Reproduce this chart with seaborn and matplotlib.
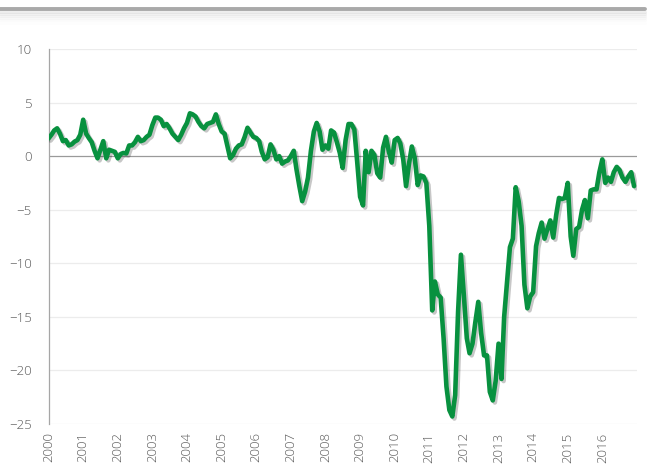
import matplotlib
matplotlib.use("Agg")
import matplotlib.pyplot as plt
import matplotlib.patheffects as pe
import pandas as pd
import seaborn as sns

# monthly values, one list per year
y2000 = [1.65, 2.0, 2.4, 2.6, 2.1, 1.4, 1.5, 1.0, 1.1, 1.35, 1.5, 2.0]
y2001 = [3.4, 2.1, 1.7, 1.3, 0.5, -0.2, 0.6, 1.4, -0.2, 0.6, 0.5, 0.4]
y2002 = [-0.2, 0.2, 0.3, 0.25, 1.0, 1.0, 1.3, 1.8, 1.4, 1.5, 1.8, 2.0]
y2003 = [2.9, 3.6, 3.6, 3.4, 2.8, 3.0, 2.6, 2.1, 1.8, 1.5, 2.0, 2.6]
y2004 = [3.1, 4.0, 3.9, 3.7, 3.2, 2.8, 2.6, 3.0, 3.1, 3.2, 3.9, 3.0]
y2005 = [2.3, 2.1, 1.0, -0.2, 0.1, 0.7, 1.0, 1.1, 1.8, 2.65, 2.2, 1.8]
y2006 = [1.7, 1.4, 0.4, -0.3, -0.1, 1.1, 0.6, -0.3, 0.0, -0.7, -0.5, -0.4]
y2007 = [0.0, 0.5, -1.2, -2.8, -4.2, -3.3, -2.0, 0.5, 2.3, 3.1, 2.3, 0.6]
y2008 = [1.0, 0.7, 2.4, 2.2, 1.3, 0.3, -1.1, 1.5, 3.0, 3.0, 2.5, -0.5]
y2009 = [-3.8, -4.6, 0.5, -1.5, 0.5, 0.1, -1.6, -2.0, 0.8, 1.8, 0.4, -0.6]
y2010 = [1.5, 1.7, 1.2, -0.3, -2.8, -0.7, 0.9, -0.2, -2.7, -1.8, -1.9, -2.5]
y2011 = [-6.5, -14.4, -11.7, -12.9, -13.2, -17.0, -21.5, -23.7, -24.3, -22.3, -14.5, -9.2]
y2012 = [-13.0, -17.0, -18.4, -17.5, -15.5, -13.6, -16.5, -18.6, -18.6, -22.0, -22.8, -21.0]
y2013 = [-17.5, -20.8, -15.0, -11.7, -8.5, -7.7, -2.9, -4.2, -6.5, -12.0, -14.2, -13.1]
y2014 = [-12.7, -8.4, -7.2, -6.2, -7.7, -6.8, -6.0, -7.6, -5.5, -3.9, -4.0, -3.9]
y2015 = [-2.5, -7.5, -9.3, -6.8, -6.6, -5.0, -4.1, -5.8, -3.2, -3.1, -3.1, -1.5]
y2016 = [-0.3, -2.5, -2.0, -2.4, -1.5, -1.0, -1.3, -2.0, -2.4, -1.9, -1.5, -2.8]

values = (y2000 + y2001 + y2002 + y2003 + y2004 + y2005 + y2006 + y2007 + y2008
          + y2009 + y2010 + y2011 + y2012 + y2013 + y2014 + y2015 + y2016)
years = list(range(2000, 2017))
y_ticks = [-25, -20, -15, -10, -5, 0, 5, 10]

df = pd.DataFrame({
    "date": pd.date_range("2000-01-01", periods=len(values), freq="MS"),
    "value": values,
})

sns.set_style("white")
plt.rcParams["font.family"] = ["Open Sans", "DejaVu Sans"]

fig = plt.figure(figsize=(6.53, 4.75), dpi=100)
ax = fig.add_axes([0.0743, 0.1074, 0.9012, 0.7894])

# gridlines
for t in y_ticks:
    if t == 0:
        ax.axhline(t, color="#9a9a9a", lw=0.9, zorder=1)
    else:
        ax.axhline(t, color="#ececec", lw=0.9, zorder=1)

sns.lineplot(data=df, x="date", y="value", ax=ax, color="#08913f", lw=3.3,
             zorder=3,
             path_effects=[pe.SimpleLineShadow(offset=(1.5, -1.5), shadow_color="#000000", alpha=0.22),
                           pe.Normal()])

ax.set_xlim(pd.Timestamp("2000-01-01"), pd.Timestamp("2017-01-01"))
ax.set_ylim(-25, 10)
ax.set_yticks(y_ticks)
ax.set_xticks([pd.Timestamp(f"{y}-01-01") for y in years])
ax.set_xticklabels([str(y) for y in years], rotation=90)
ax.set_xlabel("")
ax.set_ylabel("")
ax.tick_params(axis="both", length=0, labelsize=9.5, labelcolor="#595959")
ax.tick_params(axis="y", pad=12)
ax.tick_params(axis="x", pad=6)
for lbl in ax.get_xticklabels() + ax.get_yticklabels():
    lbl.set_fontweight("light")

for s in ["top", "right", "bottom"]:
    ax.spines[s].set_visible(False)
ax.spines["left"].set_color("#a6a6a6")
ax.spines["left"].set_linewidth(0.9)

# gray header bar with a soft shadow
fig.add_artist(plt.Line2D([0, 0.988], [0.981, 0.981], transform=fig.transFigure,
                          color="#a9a9a9", lw=2.8))
for i, a in enumerate([0.3, 0.22, 0.15, 0.1, 0.06, 0.03]):
    yy = 0.975 - i * 0.0045
    fig.add_artist(plt.Line2D([0, 0.988], [yy, yy], transform=fig.transFigure,
                              color="#c8c8c8", lw=2.2, alpha=a))

fig.savefig("out.png", dpi=100)
